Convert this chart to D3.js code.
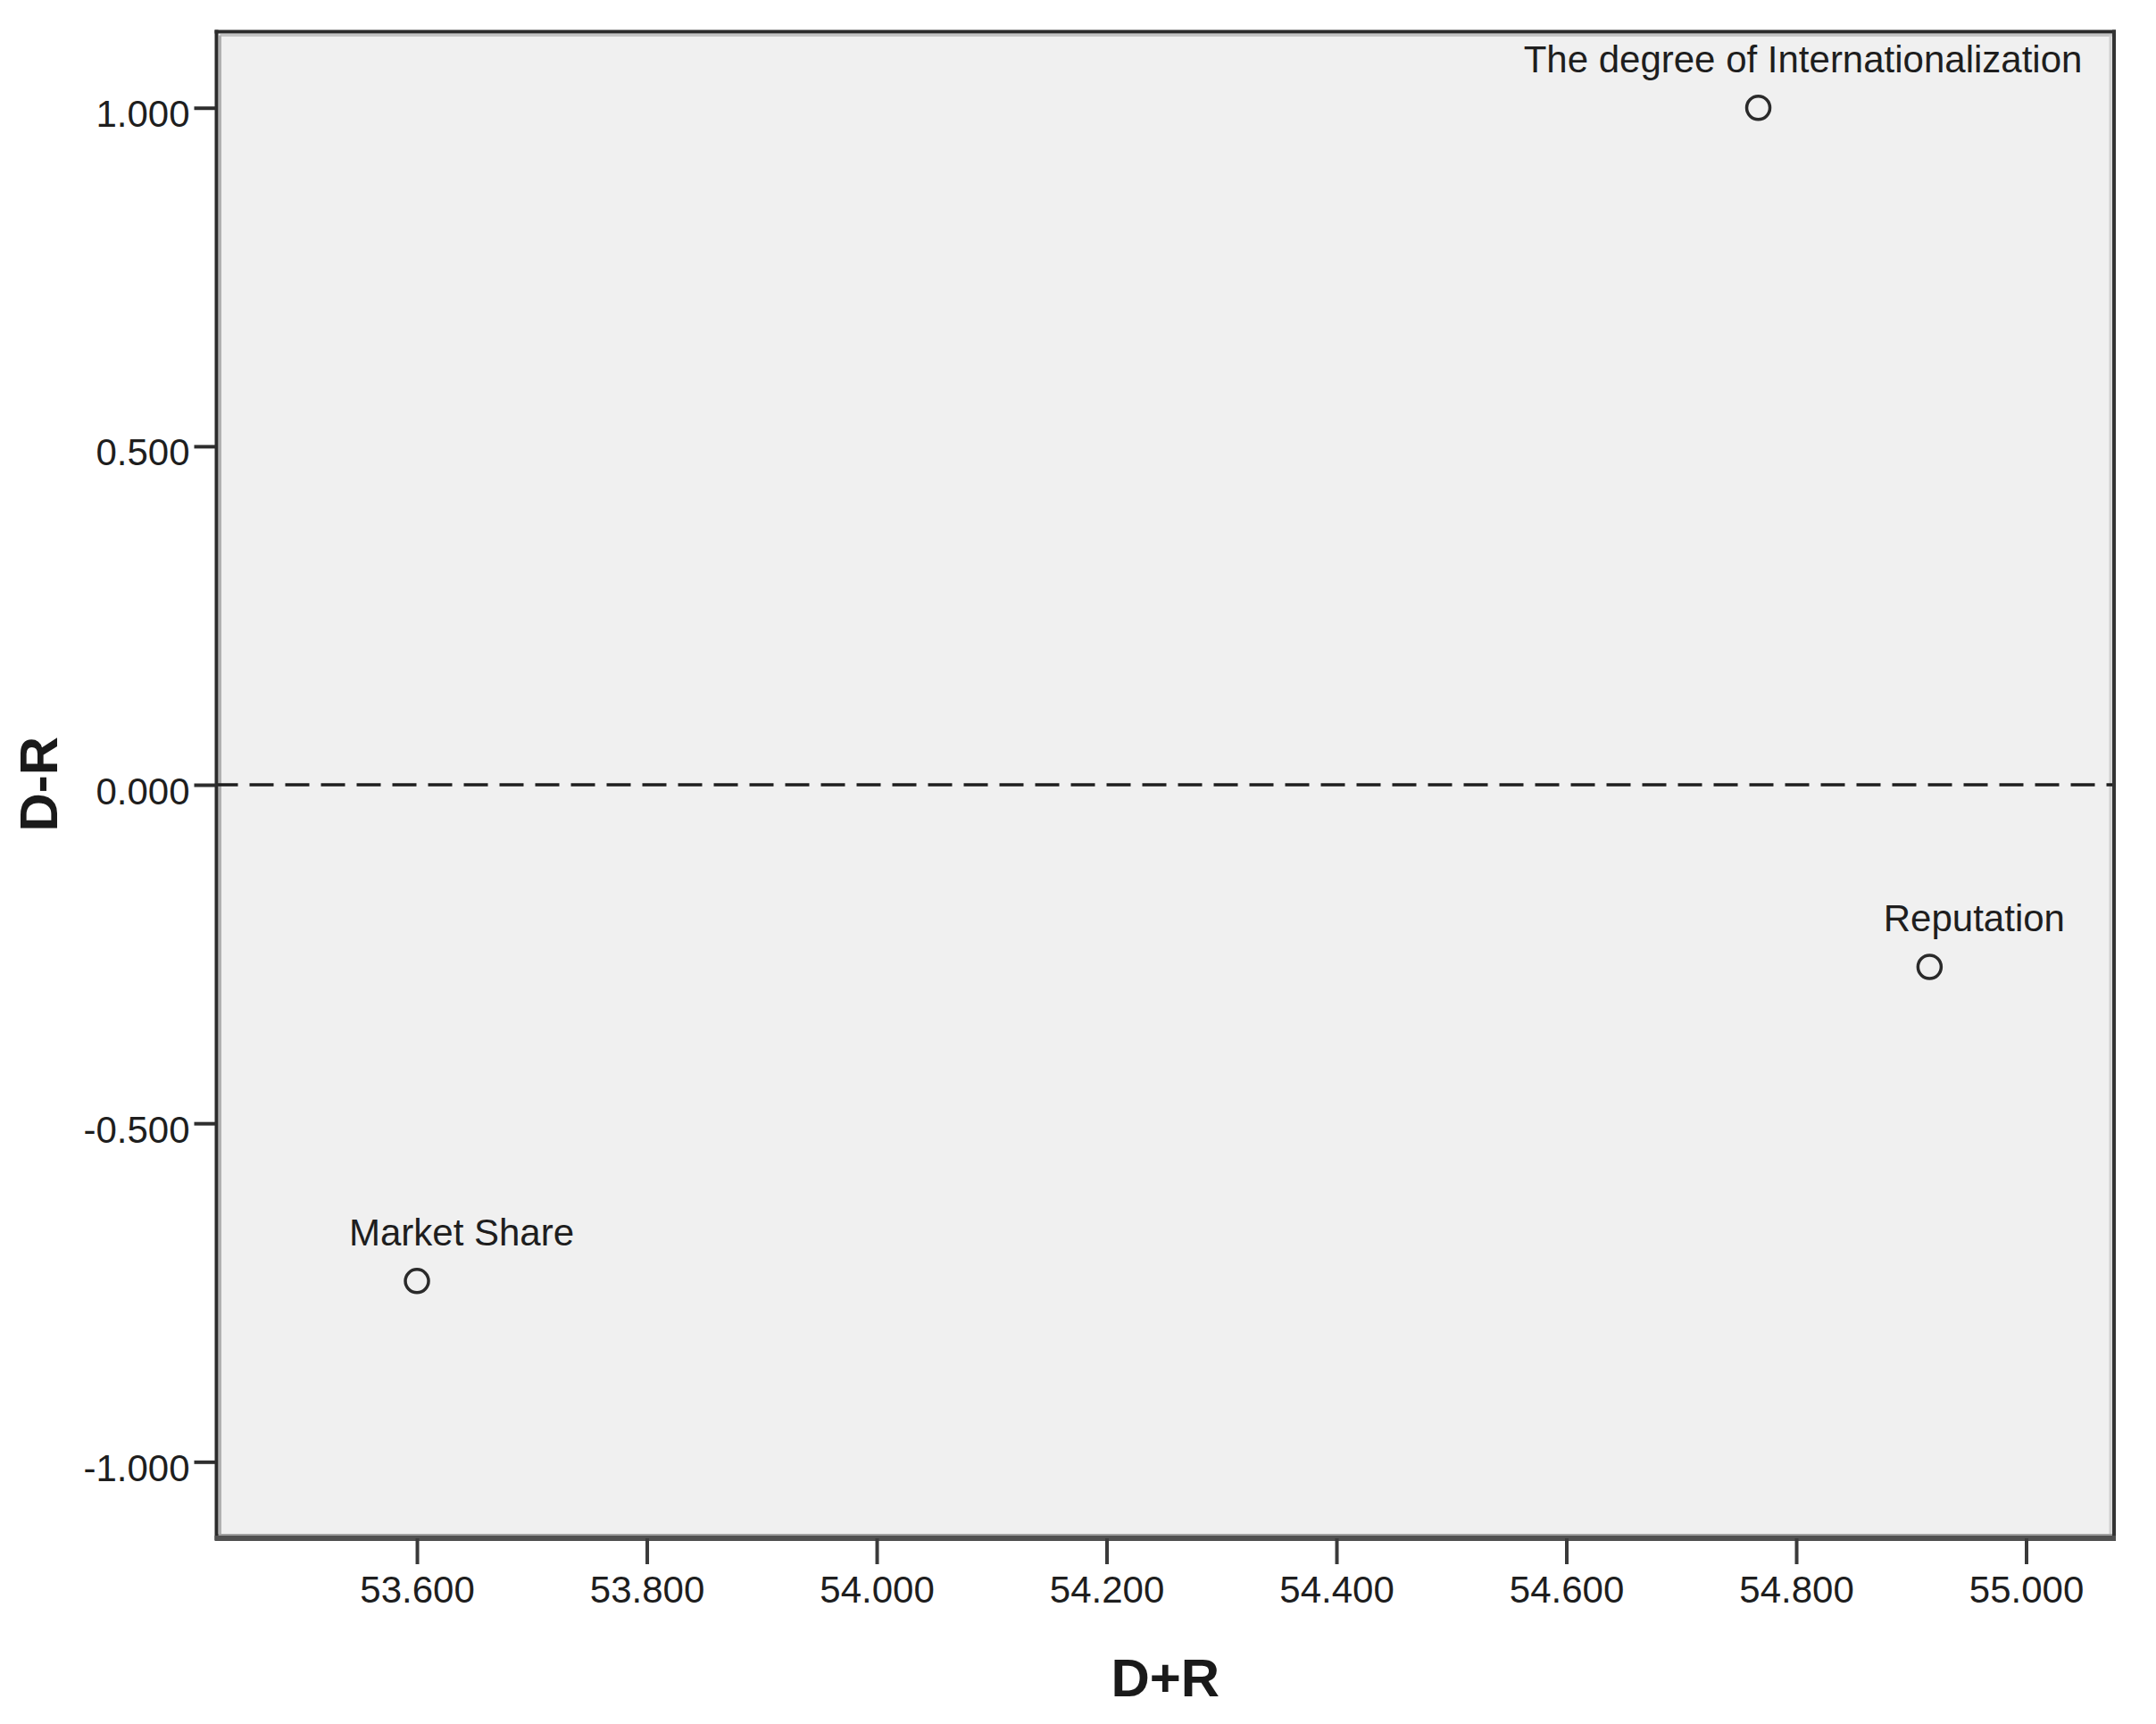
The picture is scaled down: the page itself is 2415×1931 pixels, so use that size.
<!DOCTYPE html>
<html>
<head>
<meta charset="utf-8">
<script src="https://cdn.jsdelivr.net/npm/d3@7"></script>
<style>
  html, body { margin: 0; padding: 0; background: #ffffff; }
  svg { display: block; }
  text { font-family: "Liberation Sans", Arial, sans-serif; }
</style>
</head>
<body>
<script>
// ---- data ----
const categories = ["The degree of Internationalization", "Reputation", "Market Share"];
const dPlusR = [54.767, 54.916, 53.600];
const dMinusR = [1.000, -0.269, -0.733];
const xTicks = [53.6, 53.8, 54.0, 54.2, 54.4, 54.6, 54.8, 55.0];
const yTicks = [-1.0, -0.5, 0.0, 0.5, 1.0];
const xTitle = "D+R";
const yTitle = "D-R";

// ---- layout ----
const W = 2415, H = 1931;
const pL = 242.5, pR = 2368, pT = 35.5, pB = 1723;

const svg = d3.select("body").append("svg").attr("width", W).attr("height", H);

const x = d3.scaleLinear().domain([53.4256, 55.0765]).range([pL, pR]);
const y = d3.scaleLinear().domain([-1.113, 1.1124]).range([pB, pT]);

// plot background
svg.append("rect")
  .attr("x", pL).attr("y", pT)
  .attr("width", pR - pL).attr("height", pB - pT)
  .attr("fill", "#f0f0f0");

// inner light shadow lines
svg.append("line").attr("x1", pL + 4).attr("x2", pR - 2).attr("y1", pT + 4).attr("y2", pT + 4)
  .attr("stroke", "#c4c4c4").attr("stroke-width", 3);
svg.append("line").attr("x1", pL + 4).attr("x2", pL + 4).attr("y1", pT + 4).attr("y2", pB - 2)
  .attr("stroke", "#b0b0b0").attr("stroke-width", 3);
svg.append("line").attr("x1", pR - 4).attr("x2", pR - 4).attr("y1", pT + 4).attr("y2", pB - 2)
  .attr("stroke", "#d0d0d0").attr("stroke-width", 3);
svg.append("line").attr("x1", pL).attr("x2", pR).attr("y1", pB - 4).attr("y2", pB - 4)
  .attr("stroke", "#a0a0a0").attr("stroke-width", 2);

// dashed reference line at D-R = 0
svg.append("line")
  .attr("x1", x.range()[0]).attr("x2", x.range()[1])
  .attr("y1", y(0)).attr("y2", y(0))
  .attr("stroke", "#1e1e1e").attr("stroke-width", 3.5)
  .attr("stroke-dasharray", "27,13").attr("stroke-dashoffset", 3);

// frame
svg.append("line").attr("x1", pL - 2).attr("x2", pR + 2).attr("y1", pT).attr("y2", pT)
  .attr("stroke", "#2b2b2b").attr("stroke-width", 4);
svg.append("line").attr("x1", pL).attr("x2", pL).attr("y1", pT - 2).attr("y2", pB + 2)
  .attr("stroke", "#2b2b2b").attr("stroke-width", 4);
svg.append("line").attr("x1", pR).attr("x2", pR).attr("y1", pT - 2).attr("y2", pB + 2)
  .attr("stroke", "#333333").attr("stroke-width", 4);
svg.append("line").attr("x1", pL - 2).attr("x2", pR + 2).attr("y1", pB).attr("y2", pB)
  .attr("stroke", "#505050").attr("stroke-width", 6);

// axes
const fmt3 = d3.format(".3f");
const fmt = v => fmt3(v).replace("\u2212", "-");
const xAxis = svg.append("g")
  .attr("transform", `translate(0,${pB})`)
  .call(d3.axisBottom(x).tickValues(xTicks).tickFormat(fmt).tickSize(29).tickSizeOuter(0));
xAxis.select(".domain").remove();
xAxis.selectAll(".tick line").attr("stroke", "#3a3a3a").attr("stroke-width", 4);
xAxis.selectAll(".tick text")
  .attr("y", 72).attr("dy", null)
  .attr("font-size", 42).attr("font-family", "Liberation Sans, Arial, sans-serif")
  .attr("fill", "#1e1e1e");

const yAxis = svg.append("g")
  .attr("transform", `translate(${pL},0)`)
  .call(d3.axisLeft(y).tickValues(yTicks).tickFormat(fmt).tickSize(25).tickSizeOuter(0));
yAxis.select(".domain").remove();
yAxis.selectAll(".tick line").attr("stroke", "#2e2e2e").attr("stroke-width", 4);
yAxis.selectAll(".tick text")
  .attr("x", -30).attr("dy", "0.5em")
  .attr("font-size", 42).attr("font-family", "Liberation Sans, Arial, sans-serif")
  .attr("fill", "#1e1e1e");

// points
const pts = categories.map((c, i) => ({ name: c, dx: dPlusR[i], dy: dMinusR[i] }));
const g = svg.append("g");
g.selectAll("circle").data(pts).enter().append("circle")
  .attr("cx", d => x(d.dx)).attr("cy", d => y(d.dy))
  .attr("r", 13)
  .attr("fill", "none").attr("stroke", "#2a2a2a").attr("stroke-width", 3.5);

g.selectAll("text.lbl").data(pts).enter().append("text")
  .attr("class", "lbl")
  .attr("x", d => x(d.dx) + 50).attr("y", d => y(d.dy) - 40)
  .attr("text-anchor", "middle")
  .attr("font-size", 42).attr("fill", "#1e1e1e")
  .text(d => d.name);

// axis titles
svg.append("text")
  .attr("x", (pL + pR) / 2).attr("y", 1900)
  .attr("text-anchor", "middle")
  .attr("font-size", 60).attr("font-weight", "bold").attr("fill", "#1a1a1a")
  .text(xTitle);

svg.append("text")
  .attr("transform", `translate(64,${(pT + pB) / 2 - 1}) rotate(-90)`)
  .attr("text-anchor", "middle")
  .attr("font-size", 60).attr("font-weight", "bold").attr("fill", "#1a1a1a")
  .text(yTitle);
</script>
</body>
</html>
